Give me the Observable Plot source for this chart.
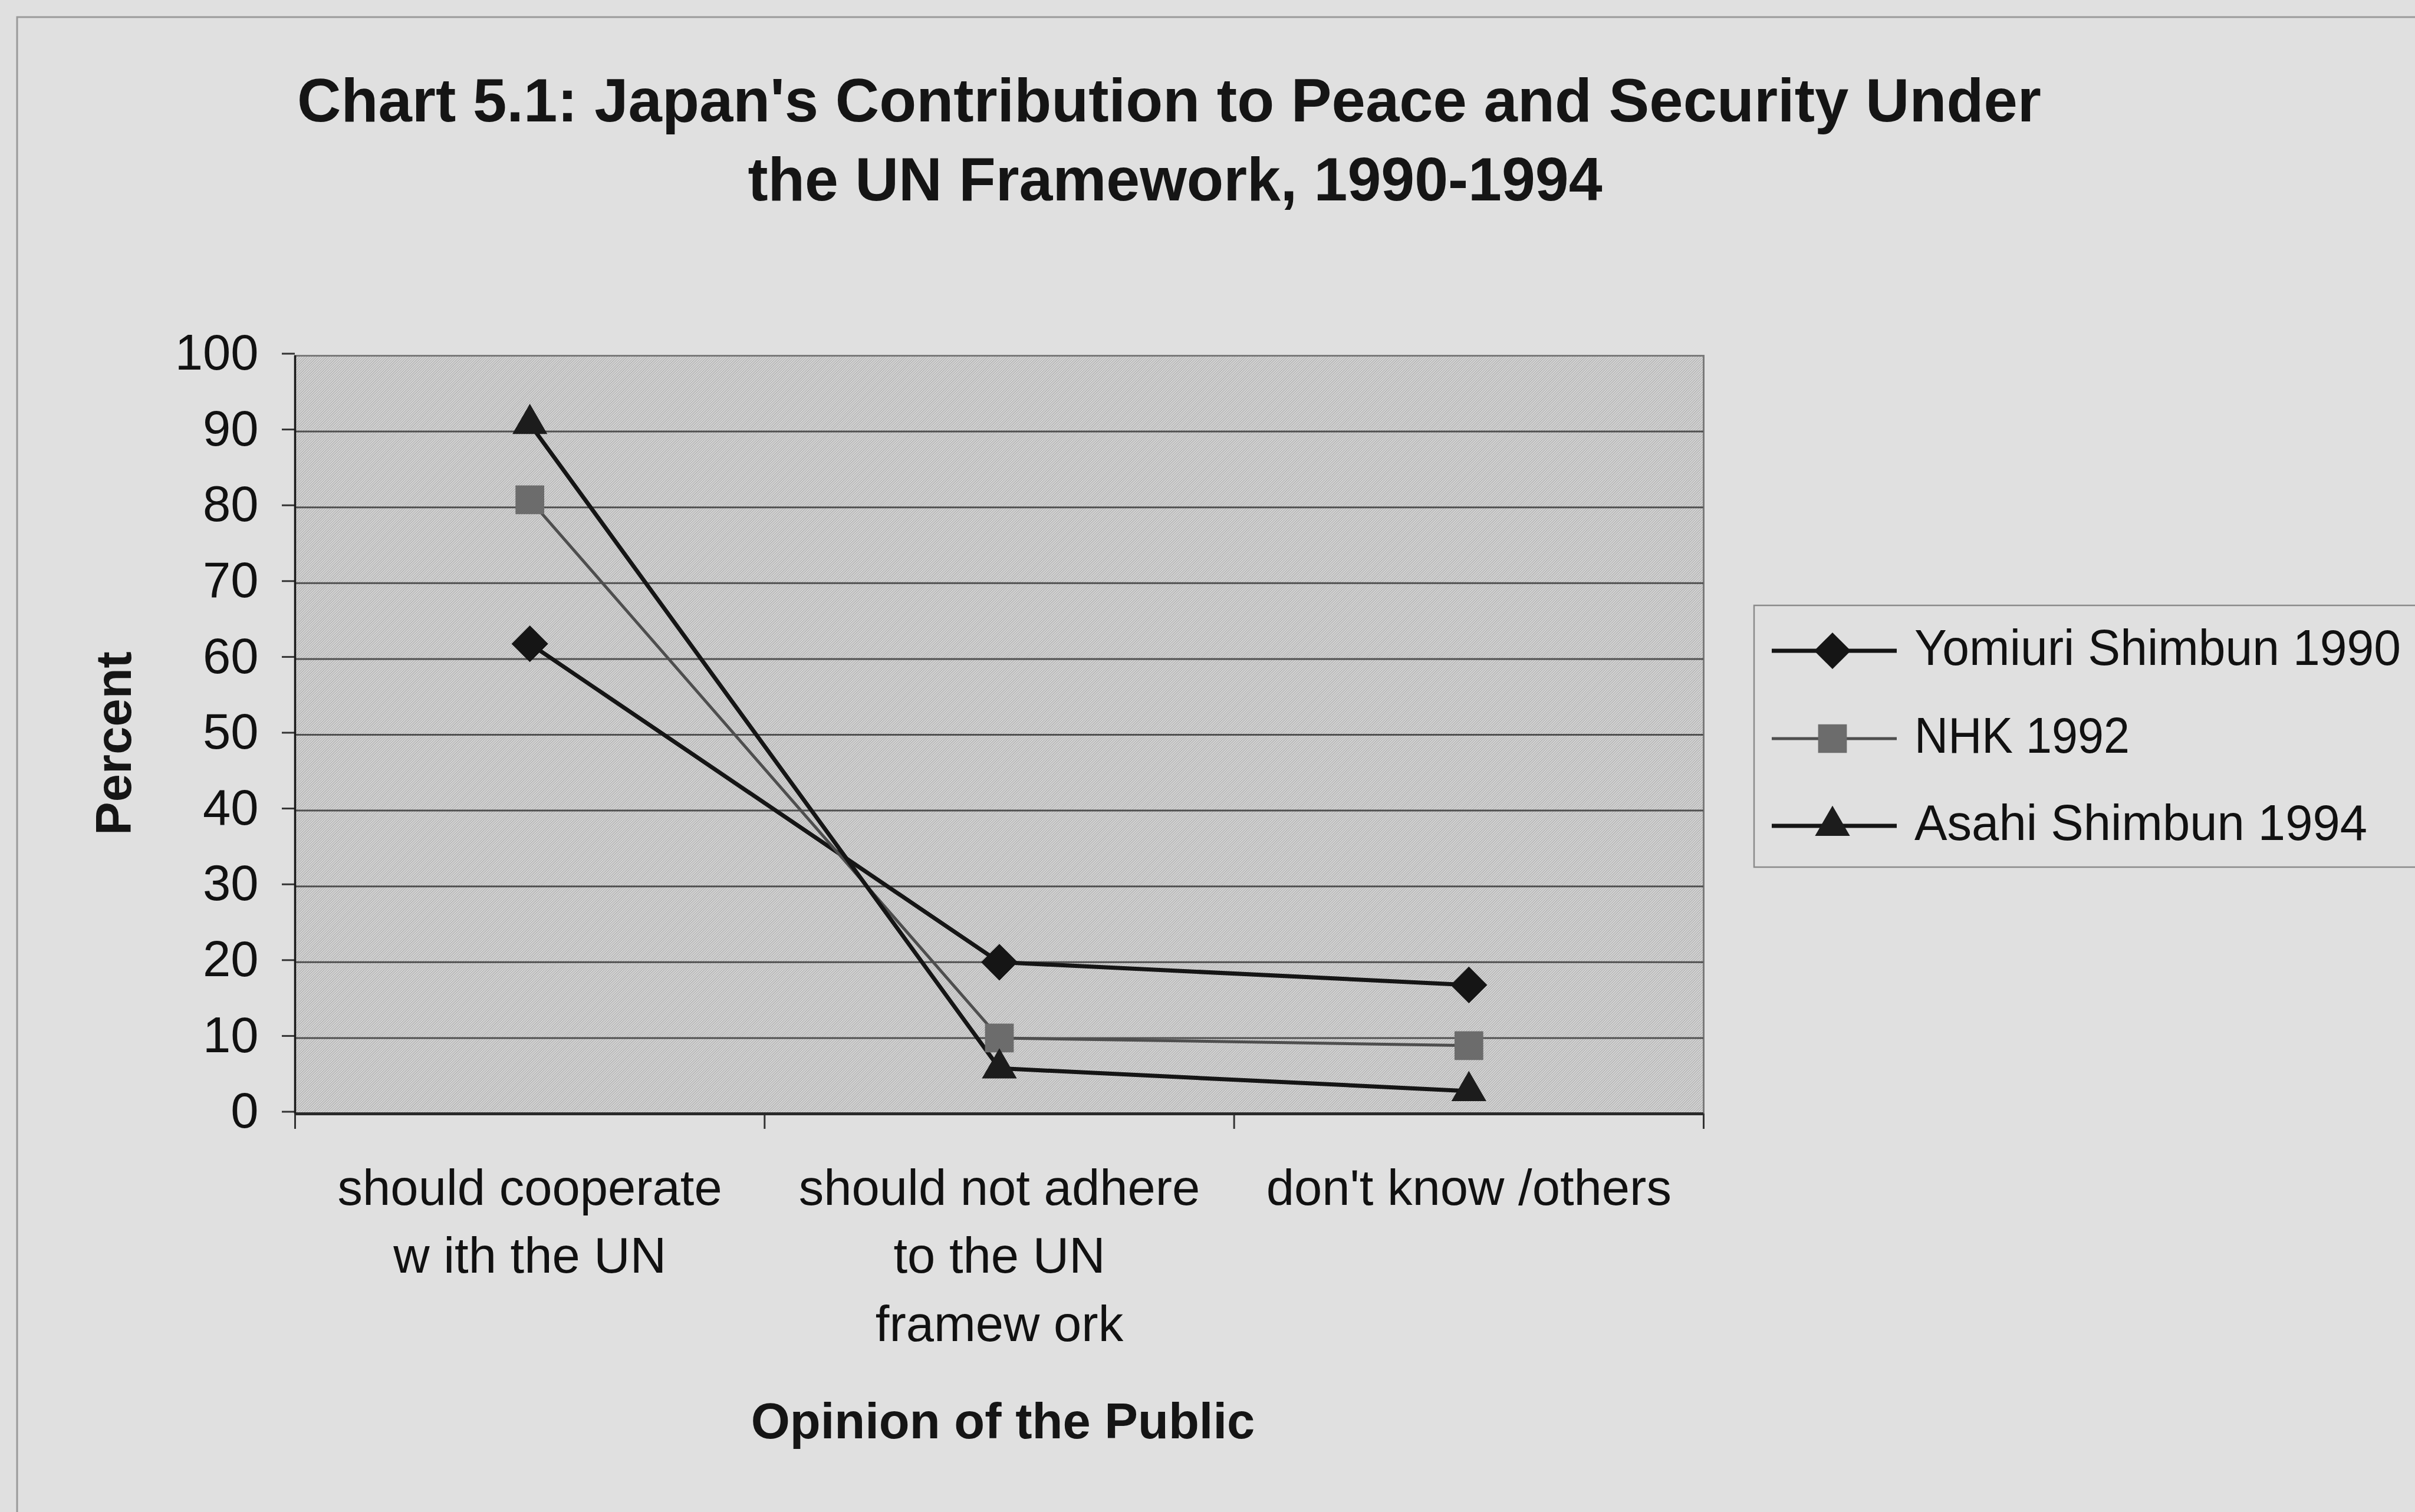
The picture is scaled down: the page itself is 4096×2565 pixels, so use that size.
<!DOCTYPE html>
<html>
<head>
<meta charset="utf-8">
<script src="https://cdn.jsdelivr.net/npm/d3@7"></script>
<script src="https://cdn.jsdelivr.net/npm/@observablehq/plot@0.6"></script>
<style>
  html, body { margin: 0; padding: 0; background: #e0e0e0; }
  #chart { position: relative; width: 4096px; height: 2565px; overflow: hidden; background: #e0e0e0; }
  #chart svg { display: block; }
</style>
</head>
<body>
<div id="chart"></div>
<script>
// ---- data ----
const categories = ["should cooperate\nw ith the UN", "should not adhere\nto the UN\nframew ork", "don't know /others"];
const seriesNames = ["Yomiuri Shimbun 1990", "NHK 1992", "Asahi Shimbun 1994"];
const yomiuri = [62, 20, 17];
const nhk = [81, 10, 9];
const asahi = [91, 6, 3];
const yTicks = [0, 10, 20, 30, 40, 50, 60, 70, 80, 90, 100];
const titleLines = ["Chart 5.1: Japan's Contribution to Peace and Security Under", "the UN Framework, 1990-1994"];
const xTitle = "Opinion of the Public";
const yTitle = "Percent";

// ---- styling per series ----
const FONT = "'Liberation Sans', Arial, Helvetica, sans-serif";
const styles = [
  {stroke: "#151515", width: 7, symbol: "diamond2", r: 28, fill: "#151515"},
  {stroke: "#4e4e4e", width: 5, symbol: "square", r: 27.5, fill: "#6c6c6c"},
  {stroke: "#151515", width: 7, symbol: "triangle", r: 22, fill: "#1c1c1c"}
];
const values = [yomiuri, nhk, asahi];
const series = seriesNames.map((name, k) => ({
  name, style: styles[k],
  rows: categories.map((c, i) => ({category: c, pos: i + 0.5, value: values[k][i]}))
}));

const W = 4096, H = 2565;
const M = {left: 500, right: W - 2889, top: 603, bottom: H - 1889};

const plot = Plot.plot({
  width: W, height: H,
  marginLeft: M.left, marginRight: M.right, marginTop: M.top, marginBottom: M.bottom,
  style: {background: "transparent", fontFamily: FONT, fontSize: "85px", color: "#111", overflow: "visible"},
  x: {type: "linear", domain: [0, categories.length]},
  y: {domain: [0, 100]},
  marks: [
    Plot.frame({fill: "url(#plotHatch)", stroke: "#7a7a7a", strokeWidth: 3}),
    Plot.gridY(yTicks.slice(1, -1), {stroke: "#505050", strokeOpacity: 1, strokeWidth: 3}),
    Plot.axisY({ticks: yTicks, tickSize: 22, tickPadding: 40, stroke: "#333", strokeWidth: 3,
      label: null, dy: -3.5, fontSize: 85, fill: "#111"}),
    Plot.axisX({ticks: d3.range(categories.length + 1), tickSize: 26, tickFormat: () => "",
      stroke: "#333", strokeWidth: 3, label: null}),
    Plot.axisX({ticks: categories.map((c, i) => i + 0.5), tickSize: 0, tickPadding: 72,
      tickFormat: (d) => categories[Math.floor(d)], lineHeight: 1.36, fontSize: 85,
      fill: "#111", label: null}),
    Plot.ruleY([0], {stroke: "#2a2a2a", strokeWidth: 5}),
    Plot.ruleX([0], {stroke: "#1a1a1a", strokeWidth: 3.5}),
    ...series.map(s => Plot.line(s.rows, {x: "pos", y: "value", stroke: s.style.stroke, strokeWidth: s.style.width})),
    ...series.map(s => Plot.dot(s.rows, {x: "pos", y: "value", symbol: s.style.symbol, r: s.style.r,
      fill: s.style.fill, stroke: "none"}))
  ]
});

document.getElementById("chart").appendChild(plot);

// ---- hatch for the plotting area ----
const svg = d3.select(plot);
const defs = svg.insert("defs", ":first-child");
const pat = defs.append("pattern").attr("id", "plotHatch").attr("patternUnits", "userSpaceOnUse")
  .attr("width", 3).attr("height", 3).attr("patternTransform", "rotate(45)");
pat.append("rect").attr("width", 3).attr("height", 3).attr("fill", "#d6d6d6");
pat.append("rect").attr("width", 1).attr("height", 3).attr("fill", "#a8a8a8");

// ---- outer chart border ----
svg.insert("rect", "defs + *").attr("x", 29).attr("y", 29).attr("width", W + 40).attr("height", H + 40)
  .attr("fill", "none").attr("stroke", "#9a9a9a").attr("stroke-width", 3);

// ---- title ----
const titleSpecs = [{cx: 1983, y: 206, len: 2958}, {cx: 1993, y: 340, len: 1449}];
titleLines.forEach((t, i) => {
  svg.append("text").attr("x", titleSpecs[i].cx).attr("y", titleSpecs[i].y)
    .attr("text-anchor", "middle").attr("font-family", FONT).attr("font-weight", "bold")
    .attr("font-size", 104).attr("fill", "#151515")
    .attr("textLength", titleSpecs[i].len).attr("lengthAdjust", "spacingAndGlyphs").text(t);
});

// ---- axis titles ----
svg.append("text").attr("x", 1701).attr("y", 2440).attr("text-anchor", "middle")
  .attr("font-family", FONT).attr("font-weight", "bold").attr("font-size", 85).attr("fill", "#151515")
  .text(xTitle);
svg.append("text").attr("transform", "translate(222,1261) rotate(-90)").attr("text-anchor", "middle")
  .attr("font-family", FONT).attr("font-weight", "bold").attr("font-size", 85).attr("fill", "#151515")
  .text(yTitle);

// ---- legend ----
const lg = svg.append("g").attr("text-anchor", "start");
lg.append("rect").attr("x", 2975).attr("y", 1027).attr("width", 1300).attr("height", 444)
  .attr("fill", "#e0e0e0").attr("stroke", "#8a8a8a").attr("stroke-width", 2.5);
const rowY = [1104, 1253, 1401];
const textLen = [825, 365, 768];
const symbolTypes = {diamond2: d3.symbolDiamond2, square: d3.symbolSquare, triangle: d3.symbolTriangle};
series.forEach((s, i) => {
  const y = rowY[i];
  lg.append("line").attr("x1", 3005).attr("x2", 3217).attr("y1", y).attr("y2", y)
    .attr("stroke", s.style.stroke).attr("stroke-width", s.style.width);
  lg.append("path")
    .attr("d", d3.symbol(symbolTypes[s.style.symbol], Math.PI * s.style.r * s.style.r)())
    .attr("transform", `translate(3108,${y})`).attr("fill", s.style.fill);
  lg.append("text").attr("x", 3247).attr("y", y + 24).attr("text-anchor", "start").attr("font-family", FONT)
    .attr("font-size", 85).attr("fill", "#111")
    .attr("textLength", textLen[i]).attr("lengthAdjust", "spacingAndGlyphs").text(s.name);
});
</script>
</body>
</html>
